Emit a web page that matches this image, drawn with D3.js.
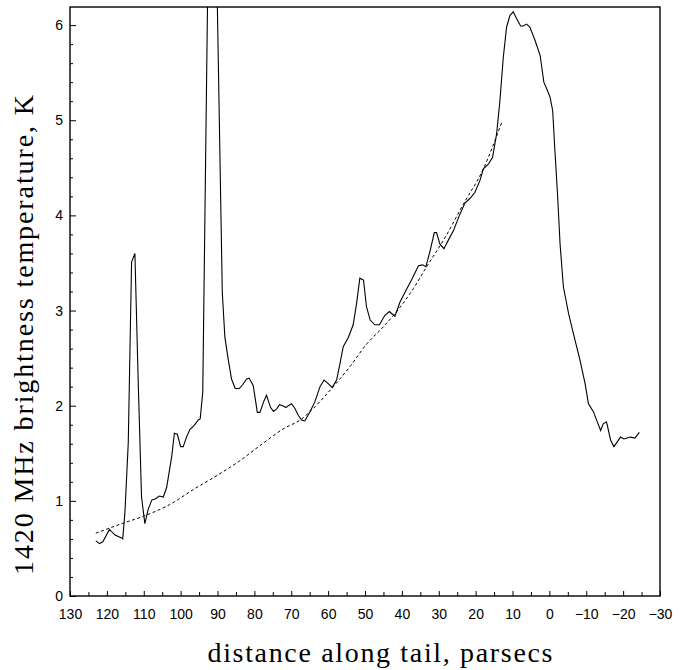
<!DOCTYPE html>
<html>
<head>
<meta charset="utf-8">
<script src="https://cdn.jsdelivr.net/npm/d3@7"></script>
<style>
body { margin: 0; background: #fff; }
.tick text { font-family: "Liberation Sans", Arial, sans-serif; font-size: 14px; fill: #000; }
.title { font-family: "Liberation Serif", "DejaVu Serif", serif; font-size: 28px; fill: #000; }
</style>
</head>
<body>
<svg width="691" height="670"></svg>
<script>
// measured profile along the tail (distance in pc, temperature in K)
var tailDist = [123.0, 122.0, 121.1, 119.3, 117.8, 116.0, 115.7, 115.1, 114.2, 113.3, 112.4, 111.5, 110.6, 109.7,
    108.8, 107.8, 106.9, 105.8, 104.7, 103.8, 102.4, 101.7, 100.9, 100.0, 99.3, 98.4, 97.5, 96.4, 95.2, 94.7,
    94.0, 91.6, 88.7, 88.0, 87.1, 86.2, 85.2, 84.1, 83.2, 82.1, 81.4, 80.3, 79.2, 78.5, 77.4, 76.7, 75.6, 74.8,
    73.9, 73.2, 72.3, 71.4, 70.8, 69.9, 69.0, 68.1, 67.2, 66.3, 64.9, 63.6, 62.2, 61.1, 59.9, 58.9, 57.7, 56.8,
    55.9, 54.5, 53.2, 52.3, 51.4, 50.4, 49.6, 48.6, 47.3, 46.1, 44.6, 43.4, 41.9, 40.5, 38.9, 37.4, 35.5, 34.4,
    33.5, 32.4, 31.2, 30.6, 29.7, 28.6, 27.4, 26.0, 24.4, 22.9, 21.5, 20.2, 18.8, 17.9, 16.5, 15.4, 14.3, 13.4,
    12.5, 11.6, 10.7, 9.8, 8.9, 7.8, 7.1, 6.2, 5.3, 3.9, 2.5, 1.5, 0.5, -0.2, -0.9, -1.5, -2.2, -2.9, -3.8,
    -5.2, -6.5, -8.3, -9.7, -10.6, -11.9, -13.0, -13.9, -14.6, -15.5, -16.6, -17.5, -18.4, -19.3, -20.2,
    -21.1, -22.0, -23.2, -24.4];
var tailTemp = [0.58, 0.55, 0.57, 0.70, 0.64, 0.61, 0.60, 0.88, 1.61, 3.51, 3.60, 2.25, 1.04, 0.76,
    0.91, 1.01, 1.02, 1.05, 1.04, 1.14, 1.47, 1.71, 1.70, 1.57, 1.57, 1.67, 1.75, 1.79, 1.85, 1.86,
    2.14, 9.70, 3.19, 2.72, 2.49, 2.28, 2.18, 2.18, 2.22, 2.28, 2.29, 2.21, 1.93, 1.93, 2.05, 2.11, 1.98, 1.94,
    1.97, 2.01, 2.00, 1.98, 2.00, 2.02, 1.97, 1.90, 1.85, 1.84, 1.94, 2.04, 2.20, 2.27, 2.23, 2.19, 2.27, 2.44,
    2.62, 2.72, 2.85, 3.07, 3.34, 3.32, 3.04, 2.90, 2.85, 2.85, 2.95, 2.99, 2.94, 3.09, 3.21, 3.32, 3.47, 3.48,
    3.46, 3.62, 3.82, 3.82, 3.70, 3.65, 3.74, 3.84, 4.00, 4.13, 4.18, 4.24, 4.37, 4.49, 4.54, 4.61, 4.86, 5.21,
    5.66, 5.98, 6.10, 6.14, 6.07, 5.99, 5.99, 6.01, 5.98, 5.84, 5.68, 5.40, 5.31, 5.24, 5.10, 4.68, 4.23, 3.70, 3.25,
    2.97, 2.76, 2.48, 2.23, 2.02, 1.94, 1.83, 1.74, 1.81, 1.83, 1.64, 1.57, 1.62, 1.67, 1.65,
    1.66, 1.67, 1.66, 1.72];

// dotted fitted curve
var fitDist = [123.0, 116.0, 110.0, 103.0, 96.5, 90.0, 84.0, 78.5, 72.0, 67.2, 65.4, 58.6, 54.1, 49.5, 45.0,
    41.4, 36.9, 33.3, 28.7, 23.3, 17.9, 12.9];
var fitTemp = [0.66, 0.76, 0.84, 0.96, 1.12, 1.27, 1.42, 1.58, 1.76, 1.86, 1.92, 2.20, 2.41, 2.65, 2.83,
    2.99, 3.23, 3.46, 3.74, 4.12, 4.49, 4.98];

var xTicks = [130, 120, 110, 100, 90, 80, 70, 60, 50, 40, 30, 20, 10, 0, -10, -20, -30];
var yTicks = [0, 1, 2, 3, 4, 5, 6];

var svg = d3.select("svg");
var margin = {left: 70, top: 7, right: 31, bottom: 74};
var width = +svg.attr("width") - margin.left - margin.right,
    height = +svg.attr("height") - margin.top - margin.bottom;

var x = d3.scaleLinear().domain([130, -30]).range([0, width]);
var y = d3.scaleLinear().domain([0, 6.19]).range([height, 0]);

var g = svg.append("g").attr("transform", "translate(" + margin.left + "," + margin.top + ")");

svg.append("defs").append("clipPath").attr("id", "plotclip")
    .append("rect").attr("width", width).attr("height", height);

function noDomain(a) { a.select(".domain").remove(); }

// x ticks every 5, numbers every 10
var xMinor = d3.range(125, -30, -10);
g.append("g")
    .attr("transform", "translate(0," + height + ")")
    .call(d3.axisBottom(x).tickValues(xMinor).tickSize(-4).tickFormat(""))
    .call(noDomain);
g.append("g")
    .attr("transform", "translate(0," + height + ")")
    .call(d3.axisBottom(x).tickValues(xTicks).tickSize(-5).tickPadding(13)
        .tickFormat(function(d) { return d < 0 ? "\u2212" + (-d) : d; }))
    .call(noDomain);

var yMinor = d3.range(0.2, 6.1, 0.2).filter(function(d) { return Math.abs(d - Math.round(d)) > 0.01; });
g.append("g")
    .call(d3.axisLeft(y).tickValues(yMinor).tickSize(-3).tickFormat(""))
    .call(noDomain);
g.append("g")
    .call(d3.axisLeft(y).tickValues(yTicks).tickSize(-6).tickPadding(7).tickFormat(d3.format("d")))
    .call(noDomain);

g.selectAll(".tick line").attr("stroke", "#000").attr("stroke-width", 1);

// frame
g.append("rect")
    .attr("width", width).attr("height", height)
    .attr("fill", "none").attr("stroke", "#000").attr("stroke-width", 1.4);

var line = d3.line()
    .x(function(d) { return x(d[0]); })
    .y(function(d) { return y(d[1]); });

var plot = g.append("g").attr("clip-path", "url(#plotclip)");

plot.append("path")
    .datum(d3.zip(fitDist, fitTemp))
    .attr("d", line.curve(d3.curveMonotoneX))
    .attr("fill", "none")
    .attr("stroke", "#000")
    .attr("stroke-width", 1)
    .attr("stroke-dasharray", "3,2.5");

plot.append("path")
    .datum(d3.zip(tailDist, tailTemp))
    .attr("d", line.curve(d3.curveLinear))
    .attr("fill", "none")
    .attr("stroke", "#000")
    .attr("stroke-width", 1.1);

// axis titles
svg.append("text")
    .attr("class", "title")
    .attr("x", 380)
    .attr("y", 662)
    .attr("text-anchor", "middle")
    .attr("textLength", 345)
    .text("distance along tail, parsecs");

svg.append("text")
    .attr("class", "title")
    .attr("transform", "translate(33,335) rotate(-90)")
    .attr("text-anchor", "middle")
    .attr("textLength", 480)
    .text("1420 MHz brightness temperature, K");
</script>
</body>
</html>
